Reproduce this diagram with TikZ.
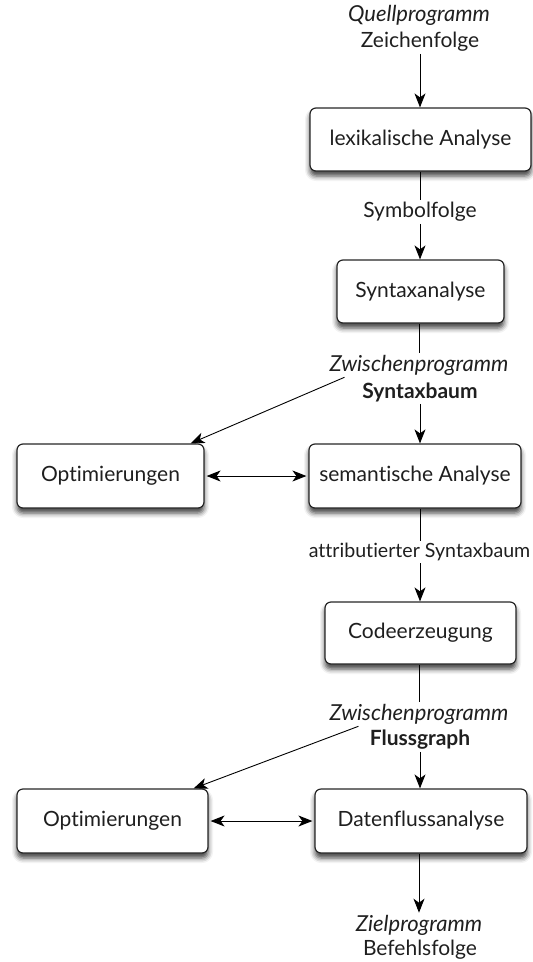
\documentclass[tikz,border=0pt]{standalone}
\usepackage{fontspec}
\setmainfont{Lato}[Ligatures=NoCommon]
\usetikzlibrary{arrows.meta,calc,shadows.blur}

\begin{document}
\begin{tikzpicture}[x=1pt,y=-1pt,
  every node/.style={font=\fontsize{21}{24}\selectfont, text=black!88},
  stage/.style={draw=black!85, line width=1.2pt, rounded corners=6pt, fill=white,
    minimum height=63pt, inner sep=0pt,
    blur shadow={shadow xshift=0pt, shadow yshift=-5pt, shadow blur radius=5pt, shadow opacity=75}},
  lbl/.style={inner sep=2pt},
  emph/.style={lbl, font=\fontsize{22}{24}\selectfont\itshape},
  conn/.style={line width=0.9pt, draw=black},
  tip/.tip={Stealth[length=14pt,width=11pt,inset=4pt]},
  flow/.style={conn, -tip},
  both/.style={conn, tip-tip, shorten <=2pt, shorten >=2pt}
]
\useasboundingbox (0,0) rectangle (533,962);

% processing stages
\node[stage, minimum width=221pt] (lex) at (420.5,139.5) {lexikalische Analyse};
\node[stage, minimum width=167pt] (syn) at (420.5,291.5) {Syntaxanalyse};
\node[stage, minimum width=187pt, minimum height=64pt] (opt1) at (110.5,476) {Optimierungen};
\node[stage, minimum width=212pt, minimum height=64pt] (sem) at (415,476) {semantische Analyse};
\node[stage, minimum width=191pt, minimum height=62pt] (cod) at (420.5,633) {Codeerzeugung};
\node[stage, minimum width=191pt, minimum height=64pt] (opt2) at (112.5,821) {Optimierungen};
\node[stage, minimum width=212pt, minimum height=64pt] (dat) at (421,821) {Datenflussanalyse};

% intermediate representations
\node[emph] (qp) at (419,15) {Quellprogramm};
\node[lbl] (zf) at (420,42) {Zeichenfolge};
\node[lbl] (sf) at (420,212) {Symbolfolge};
\node[emph] (zp1) at (419,365) {Zwischenprogramm};
\node[lbl] (sb) at (420,392) {\bfseries Syntaxbaum};
\node[lbl, font=\fontsize{19.6}{24}\selectfont] (asb) at (419.5,552) {attributierter Syntaxbaum};
\node[emph] (zp2) at (419,714) {Zwischenprogramm};
\node[lbl] (fg) at (420,740) {\bfseries Flussgraph};
\node[emph] (zlp) at (419,925) {Zielprogramm};
\node[lbl] (bf) at (420,950) {Befehlsfolge};

% main flow
\draw[flow] (zf.south) -- (zf.south |- lex.north);
\draw[conn] (lex.south -| sf.north) -- (sf.north);
\draw[flow] (sf.south) -- (sf.south |- syn.north);
\draw[conn] (syn.south -| zp1.north) -- (zp1.north);
\draw[flow] (sb.south) -- (sb.south |- sem.north);
\draw[conn] (sem.south -| sf.north) -- (asb.north -| sf.north);
\draw[flow] (asb.south -| sf.north) -- (cod.north -| sf.north);
\draw[conn] (cod.south -| zp2.north) -- (zp2.north);
\draw[flow] (fg.south) -- (fg.south |- dat.north);
\draw[flow] (dat.south -| zlp.north) -- (zlp.north);

% branches to the optimisers
\draw[flow] ($(zp1.south west)+(17,0)$) -- ($(opt1.north east)+(-14,0)$);
\draw[flow] ($(zp2.south west)+(31,0)$) -- ($(opt2.north east)+(-15,0)$);
\draw[both] (opt1.east) -- (sem.west);
\draw[both] (opt2.east) -- (dat.west);
\end{tikzpicture}
\end{document}
